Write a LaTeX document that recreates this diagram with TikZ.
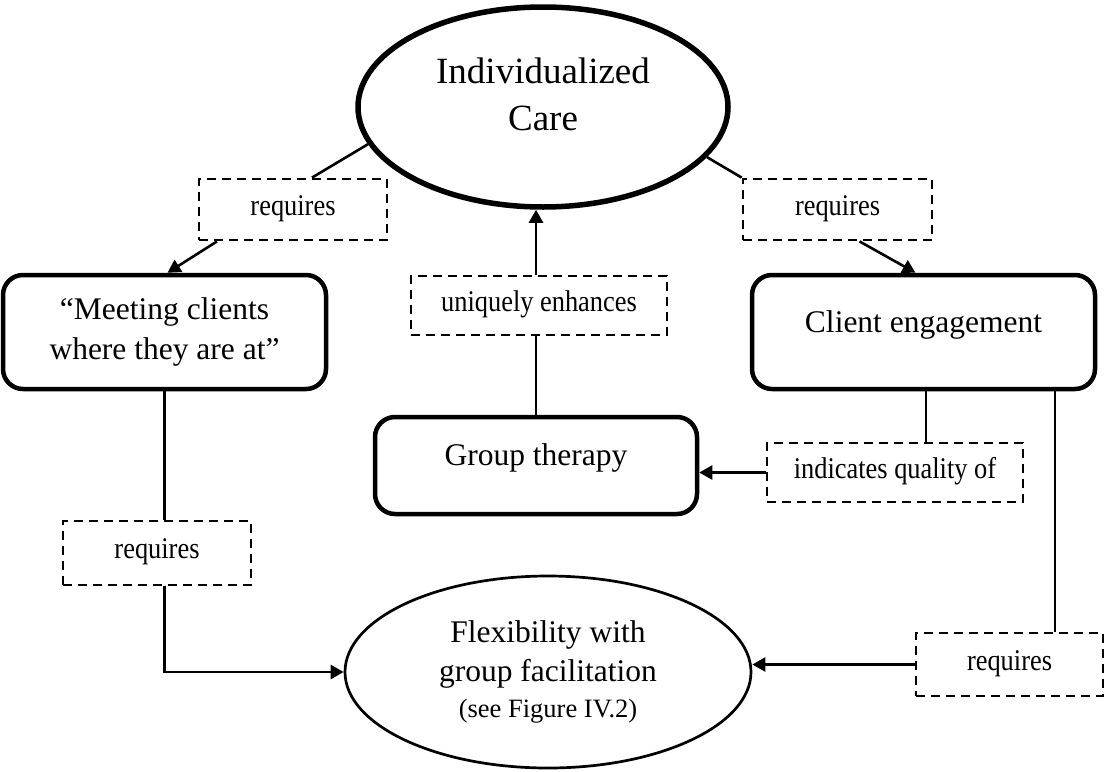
\documentclass[tikz,border=0pt]{standalone}
\usepackage{fontspec}
\setmainfont{Liberation Serif}
\newfontfamily\linkfont[FakeStretch=0.88]{Liberation Serif}
\usetikzlibrary{arrows.meta,shapes.geometric}
\begin{document}
\begin{tikzpicture}[x=1pt,y=-1pt,
  concept/.style={ellipse,draw,inner sep=0pt,align=center},
  roundbox/.style={draw,rectangle,rounded corners=20pt,line width=4.5pt,inner sep=0pt,
    font=\fontsize{31.5}{40}\selectfont},
  linkbox/.style={draw,rectangle,dash pattern=on 9pt off 6pt,line width=2.8pt,inner sep=0pt,
    font=\linkfont\fontsize{30}{36}\selectfont,text height=17pt,text depth=6pt},
  link/.style={line width=2.6pt},
  arrowlink/.style={link,-{Triangle[length=13pt,width=14pt]}},
]
\useasboundingbox (0,0) rectangle (1107,771);
\fill[white] (0,0) rectangle (1107,771);

% concepts
\node[concept,line width=5.5pt,minimum width=370pt,minimum height=200pt,
  font=\fontsize{37}{47}\selectfont] (ic) at (543,107) {Individualized\\Care\rule[-26pt]{0pt}{1pt}};
\node[roundbox,align=center,minimum width=323pt,minimum height=114pt] (mc) at (164.5,332)
  {“Meeting clients\\where they are at”};
\node[roundbox,minimum width=343pt,minimum height=114pt,text height=20pt,text depth=20pt] (ce) at (923.5,332)
  {Client engagement};
\node[roundbox,minimum width=322pt,minimum height=97pt,text height=20pt,text depth=20pt] (gt) at (536,465.5)
  {Group therapy};
\node[concept,line width=2.7pt,minimum width=406pt,minimum height=192pt,
  font=\fontsize{31.5}{39}\selectfont] (fl) at (548,672)
  {Flexibility with\\group facilitation\\[-3pt]{\fontsize{26.5}{32}\selectfont (see Figure IV.2)}};

% linking phrases
\node[linkbox,minimum width=188pt,minimum height=61pt] (r1) at (293,209.5) {requires};
\node[linkbox,minimum width=189pt,minimum height=61pt] (r2) at (837.5,209.5) {requires};
\node[linkbox,minimum width=256pt,minimum height=59pt] (ue) at (539,305.5) {uniquely enhances};
\node[linkbox,minimum width=256pt,minimum height=59pt] (iq) at (895,472.5) {indicates quality of};
\node[linkbox,minimum width=188pt,minimum height=64pt] (r3) at (157,553) {requires};
\node[linkbox,minimum width=187pt,minimum height=63pt] (r4) at (1009.5,664.5) {requires};

% connectors
\draw[link] (ic.192) -- ([xshift=19pt]r1.north);
\draw[arrowlink] ([xshift=-76pt]r1.south) -- ([xshift=3pt]mc.north);
\draw[link] (ic.343) -- (r2.north west);
\draw[arrowlink] ([xshift=22pt]r2.south) -- ([xshift=-8pt]ce.north);
\draw[link] (gt.north) -- (gt.north |- ue.south);
\draw[arrowlink] (gt.north |- ue.north) -- (gt.north |- ic.south);
\draw[link] ([xshift=2.5pt]ce.south) -- ([xshift=2.5pt]ce.south |- iq.north);
\draw[arrowlink] (iq.west) -- (iq.west -| gt.east);
\draw[link] ([xshift=131.5pt]ce.south) -- ([xshift=131.5pt]ce.south |- r4.north);
\draw[arrowlink] (r4.west) -- (r4.west -| fl.east);
\draw[link] (mc.south) -- (mc.south |- r3.north);
\draw[arrowlink] (mc.south |- r3.south) -- (mc.south |- fl.west) -- (fl.west);
\end{tikzpicture}
\end{document}
